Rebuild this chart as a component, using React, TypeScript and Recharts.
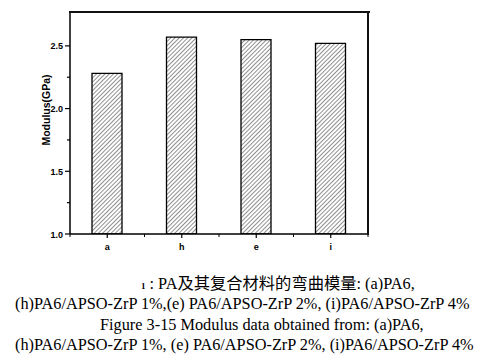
import { BarChart, Bar, XAxis, YAxis } from 'recharts';

// Flexural modulus of PA6 and composites
const categories = ['a', 'h', 'e', 'i'];
const modulus = [2.28, 2.57, 2.55, 2.52];
const yTicks = [1.0, 1.25, 1.5, 1.75, 2.0, 2.25, 2.5];
const yMajor = [1.0, 1.5, 2.0, 2.5];
const yDomain = [1.0, 2.77];

const captionLines = [
  ': PA及其复合材料的弯曲模量: (a)PA6,',
  '(h)PA6/APSO-ZrP 1%,(e) PA6/APSO-ZrP 2%, (i)PA6/APSO-ZrP 4%',
  'Figure 3-15 Modulus data obtained from: (a)PA6,',
  '(h)PA6/APSO-ZrP 1%, (e) PA6/APSO-ZrP 2%, (i)PA6/APSO-ZrP 4%',
];

const chartData = categories.map((name, i) => ({ name, value: modulus[i] }));

// plot area layout
const M = { top: 12, right: 116, left: 30, bottom: 6 };
const Y_W = 40;
const X_H = 20;
const CHART_W = 484;
const CHART_H = 260;
const PLOT_L = M.left + Y_W;
const PLOT_W = CHART_W - PLOT_L - M.right;
const PLOT_H = CHART_H - M.top - M.bottom - X_H;
const BAND = PLOT_W / categories.length;
const axisFont = '"Liberation Sans", Arial, sans-serif';

function XTick(props: any) {
  const { x, y, payload, index } = props;
  const cx = payload.coordinate ?? x;
  return (
    <g>
      <line x1={cx} y1={y} x2={cx} y2={y + 4} stroke="#000" strokeWidth={1.2} />
      <line x1={cx + BAND / 2} y1={y} x2={cx + BAND / 2} y2={y + 3} stroke="#000" strokeWidth={1} />
      {index === 0 && <line x1={cx - BAND / 2} y1={y} x2={cx - BAND / 2} y2={y + 3} stroke="#000" strokeWidth={1} />}
      <text x={cx} y={y + 16} textAnchor="middle" fontSize={9} fontWeight="bold" fontFamily={axisFont} fill="#000">
        {payload.value}
      </text>
    </g>
  );
}

function YTick(props: any) {
  const { x, y, payload } = props;
  const major = yMajor.some((v) => Math.abs(v - payload.value) < 1e-6);
  return (
    <g>
      <line x1={x - (major ? 5 : 3)} y1={y} x2={x} y2={y} stroke="#000" strokeWidth={1.2} />
      {major && (
        <text x={x - 7} y={y + 3.5} textAnchor="end" fontSize={9} fontWeight="bold" fontFamily={axisFont} fill="#000">
          {payload.value.toFixed(1)}
        </text>
      )}
    </g>
  );
}

export default function App() {
  return (
    <div style={{ position: 'absolute', left: 0, top: 0, width: 484, height: 364, background: '#fff' }}>
      <div style={{ position: 'absolute', left: 0, top: 0, width: CHART_W, height: CHART_H }}>
        <BarChart width={CHART_W} height={CHART_H} data={chartData} margin={M}>
          <defs>
            <pattern id="hatch" patternUnits="userSpaceOnUse" width={3} height={3} patternTransform="rotate(45)">
              <rect width={3} height={3} fill="#fff" />
              <line x1={0} y1={0} x2={0} y2={3} stroke="#222" strokeWidth={1} />
            </pattern>
          </defs>
          <XAxis
            dataKey="name"
            height={X_H}
            interval={0}
            tickLine={false}
            tickSize={0}
            tickMargin={0}
            axisLine={{ stroke: '#000', strokeWidth: 1.5 }}
            tick={<XTick />}
          />
          <YAxis
            type="number"
            domain={yDomain}
            ticks={yTicks}
            width={Y_W}
            allowDataOverflow
            tickLine={false}
            tickSize={0}
            tickMargin={0}
            axisLine={{ stroke: '#000', strokeWidth: 1.5 }}
            tick={<YTick />}
          />
          <Bar
            dataKey="value"
            barSize={30}
            fill="url(#hatch)"
            stroke="#000"
            strokeWidth={1.3}
            isAnimationActive={false}
          />
        </BarChart>
      </div>

      {/* top and right edges of the plot frame */}
      <div
        style={{
          position: 'absolute',
          zIndex: 5,
          left: PLOT_L - 1,
          top: M.top - 1,
          width: PLOT_W + 3,
          height: 2,
          background: '#111',
        }}
      />
      <div
        style={{
          position: 'absolute',
          zIndex: 5,
          left: PLOT_L + PLOT_W - 1,
          top: M.top - 1,
          width: 2,
          height: PLOT_H + 2,
          background: '#111',
        }}
      />

      <div
        style={{
          position: 'absolute',
          left: 46,
          top: 110,
          transform: 'translate(-50%, -50%) rotate(-90deg)',
          fontFamily: axisFont,
          fontWeight: 'bold',
          fontSize: 10.5,
          whiteSpace: 'nowrap',
          color: '#000',
        }}
      >
        Modulus(GPa)
      </div>

      <div
        style={{
          fontFamily: '"Liberation Serif", "Times New Roman", "Noto Sans CJK SC", serif',
          fontSize: 16.3,
          lineHeight: '18px',
          color: '#000',
          whiteSpace: 'nowrap',
        }}
      >
        <div style={{ position: 'absolute', left: 141, top: 275 }}>
          <span style={{ fontSize: 9, fontWeight: 'bold', marginRight: 4 }}>1</span>
          {captionLines[0]}
        </div>
        <div style={{ position: 'absolute', left: 15, top: 295 }}>{captionLines[1]}</div>
        <div style={{ position: 'absolute', left: 100, top: 316 }}>{captionLines[2]}</div>
        <div style={{ position: 'absolute', left: 15, top: 336 }}>{captionLines[3]}</div>
      </div>
    </div>
  );
}
